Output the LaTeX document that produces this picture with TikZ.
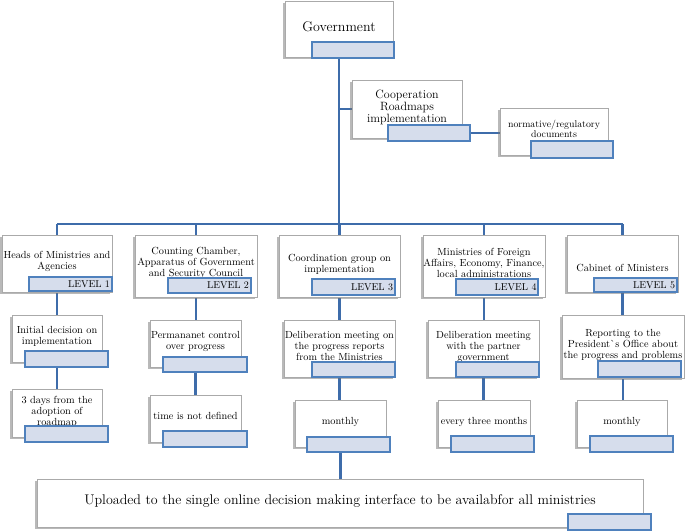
\documentclass[tikz,border=0pt]{standalone}
\usetikzlibrary{shadows,backgrounds}
\definecolor{tabfill}{RGB}{214,221,236}
\definecolor{tabline}{RGB}{79,129,189}
\definecolor{linkblue}{RGB}{62,108,170}
\definecolor{boxline}{RGB}{170,170,170}
\begin{document}
\begin{tikzpicture}[x=1pt,y=-1pt]
	\tikzstyle{Box} = [rectangle, draw=boxline, line width=0.8pt, fill=white, drop shadow={shadow xshift=-1.6pt, shadow yshift=-2pt, fill=black!55}, inner sep=0pt, align=center, font=\fontsize{10.3}{11}\selectfont]
	\tikzstyle{Tab} = [rectangle, draw=tabline, line width=1.1pt, fill=tabfill, inner sep=0pt, minimum width=83pt, minimum height=16pt]
	\tikzstyle{Level} = [Tab, text width=79pt, align=right, font=\fontsize{10}{11}\selectfont]
	\tikzstyle{link} = [draw=linkblue, line width=2.8pt]
	
	\useasboundingbox (0,0) rectangle (685,531);
	
	% top
	\node (gov) [Box, minimum width=108pt, minimum height=56pt, font=\fontsize{14}{16}\selectfont] at (339,29) {Government\\[-11pt]};
	\node (govt) [Tab, minimum width=82pt] at (353,50) {};
	\node (coop) [Box, minimum width=110pt, minimum height=58pt, font=\fontsize{12}{12}\selectfont] at (407,109) {Cooperation\\Roadmaps\\implementation\\[-7pt]};
	\node (coopt) [Tab, minimum width=82pt] at (429,133) {};
	\node (norm) [Box, minimum width=108pt, minimum height=47pt, font=\fontsize{9.8}{10.5}\selectfont] at (554,131.5) {normative/regulatory\\documents\\[-5.5pt]};
	\node (normt) [Tab, minimum width=82pt, minimum height=17pt] at (572,149.5) {};
	
	% level row
	\node (L1) [Box, minimum width=110pt, minimum height=57pt] at (57,263.5) {Heads of Ministries and\\Agencies\\[-5pt]};
	\node (L1t) [Level, minimum height=14pt] at (70.5,284) {LEVEL 1};
	\node (L2) [Box, minimum width=122pt, minimum height=62pt] at (196,266) {Counting Chamber,\\Apparatus of Government\\and Security Council\\[-3pt]};
	\node (L2t) [Level, minimum height=15pt] at (209.5,285.5) {LEVEL 2};
	\node (L3) [Box, minimum width=121pt, minimum height=62pt] at (339.5,266) {Coordination group on\\implementation\\[-6pt]};
	\node (L3t) [Level] at (353.5,287) {LEVEL 3};
	\node (L4) [Box, minimum width=122pt, minimum height=62pt] at (484,266) {Ministries of Foreign\\Affairs, Economy, Finance,\\local administrations\\[-4pt]};
	\node (L4t) [Level, minimum width=82pt] at (497,287) {LEVEL 4};
	\node (L5) [Box, minimum width=111pt, minimum height=57pt] at (622.5,263.5) {\raisebox{-7.5pt}[0pt][0pt]{Cabinet of Ministers}};
	\node (L5t) [Level, minimum height=14pt] at (635.5,285) {LEVEL 5};
	
	% what is done
	\node (A1) [Box, minimum width=90pt, minimum height=47pt] at (57,338.5) {Initial decision on\\implementation\\[-5pt]};
	\node (A1t) [Tab] at (66.5,359) {};
	\node (A2) [Box, minimum width=91pt, minimum height=47pt] at (195.5,343.5) {Permananet control\\over progress\\[-5pt]};
	\node (A2t) [Tab, minimum width=84pt, minimum height=15pt] at (205,364.5) {};
	\node (A3) [Box, minimum width=111pt, minimum height=57pt] at (339.5,348.5) {Deliberation meeting on\\the progress reports\\from the Ministries\\[-6pt]};
	\node (A3t) [Tab, minimum height=15pt] at (353.5,369.5) {};
	\node (A4) [Box, minimum width=111pt, minimum height=57pt] at (483.5,348.5) {Deliberation meeting\\with the partner\\government\\[-6pt]};
	\node (A4t) [Tab, minimum height=15pt] at (497.5,369.5) {};
	\node (A5) [Box, minimum width=122pt, minimum height=63pt] at (623,346.5) {Reporting to the\\President\textasciigrave s Office about\\the progress and problems\\[-6pt]};
	\node (A5t) [Tab] at (639.5,369) {};
	
	% how often
	\node (B1) [Box, minimum width=90pt, minimum height=48pt] at (57,413) {3 days from the\\adoption of\\roadmap\\[-6pt]};
	\node (B1t) [Tab] at (66.5,434) {};
	\node (B2) [Box, minimum width=91pt, minimum height=47pt] at (195.5,418.5) {time is not defined\\[-6pt]};
	\node (B2t) [Tab, minimum width=84pt] at (205,439) {};
	\node (B3) [Box, minimum width=91pt, minimum height=47pt] at (340.5,423.5) {monthly\\[-6pt]};
	\node (B3t) [Tab, minimum height=15pt] at (348.5,444.5) {};
	\node (B4) [Box, minimum width=92pt, minimum height=47pt] at (484,423.5) {every three months\\[-6pt]};
	\node (B4t) [Tab] at (492.5,444) {};
	\node (B5) [Box, minimum width=90pt, minimum height=47pt] at (622,423.5) {monthly\\[-6pt]};
	\node (B5t) [Tab] at (631.5,444) {};
	
	\node (up) [Box, minimum width=606pt, minimum height=48pt, font=\fontsize{14}{14}\selectfont] at (340,503) {Uploaded to the single online decision making interface to be availabfor all ministries\\[-8pt]};
	\node (upt) [Tab] at (609.5,522) {};
	
	% connectors
	\begin{scope}[on background layer]
		\coordinate (bar) at (339,224);
		\draw [link] (gov.south) -- (gov.south |- bar);
		\draw [link] (gov.south |- coop) -- (coop.west);
		\draw [link] (coopt.east) -- (coopt.east -| norm.west);
		\draw [link] (L1 |- bar) -- (L5 |- bar);
		\foreach \n in {L1,L2,L3,L4,L5}
			\draw [link] (\n |- bar) -- (\n.north);
		\foreach \a/\b in {L1/A1,A1/B1,L2/A2,A2/B2,L3/A3,A3/B3,L4/A4,A4/B4,L5/A5,A5/B5,B3/up}
			\draw [link] (\a.south) -- (\a.south |- \b.north);
	\end{scope}
\end{tikzpicture}
\end{document}
